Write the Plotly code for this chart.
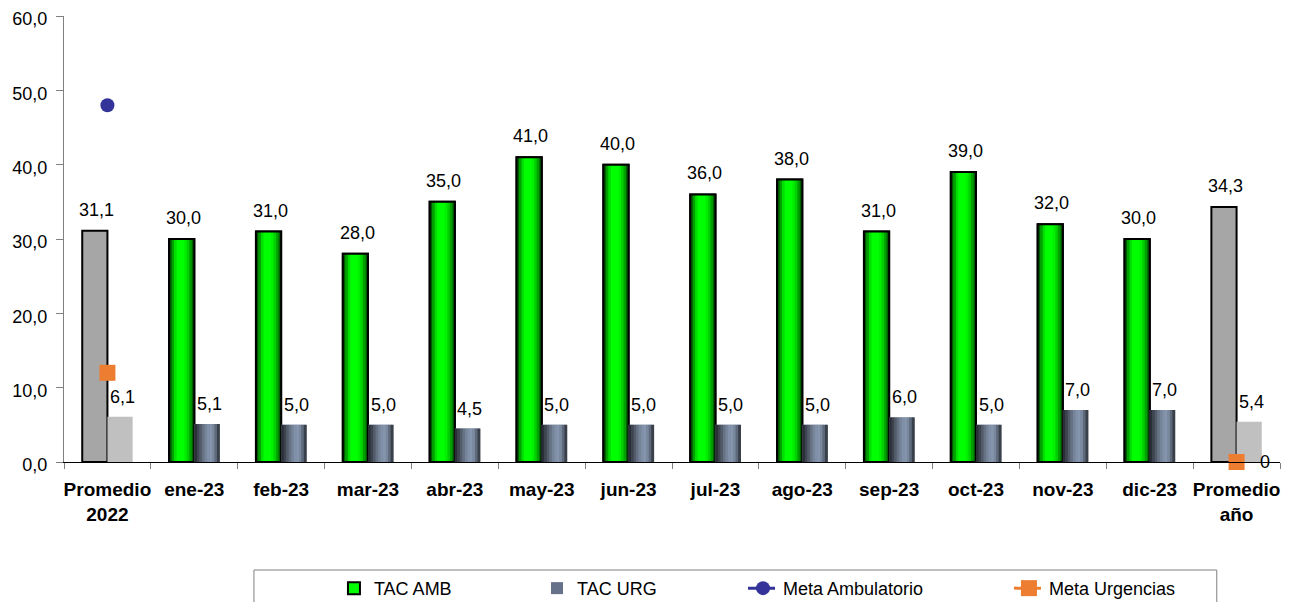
import plotly.graph_objects as go

# ---------------- data ----------------
categories = ["Promedio<br>2022", "ene-23", "feb-23", "mar-23", "abr-23", "may-23", "jun-23",
              "jul-23", "ago-23", "sep-23", "oct-23", "nov-23", "dic-23", "Promedio<br>año"]
tac_amb = [31.1, 30.0, 31.0, 28.0, 35.0, 41.0, 40.0, 36.0, 38.0, 31.0, 39.0, 32.0, 30.0, 34.3]
tac_urg = [6.1, 5.1, 5.0, 5.0, 4.5, 5.0, 5.0, 5.0, 5.0, 6.0, 5.0, 7.0, 7.0, 5.4]
meta_amb = [48.0] + [None] * 13
meta_urg = [12.0] + [None] * 12 + [0.0]
y_ticks = [0, 10, 20, 30, 40, 50, 60]

# ---------------- style ----------------
FONT = "Arial, Liberation Sans, sans-serif"
W = 0.29  # bar width in category units
green_profile = ["#005a00", "#00a000", "#00e000", "#00ff00", "#00ff00", "#00ff00",
                 "#00f000", "#00d000", "#00a000", "#006000"]
urg_profile = ["#2a2e36", "#3e444f", "#525b69", "#667283", "#76849a", "#8090a8",
               "#8595ad", "#7a889e", "#5e6a7c", "#3a404a"]

avg_idx = [0, len(categories) - 1]
mon_idx = list(range(1, len(categories) - 1))
months_x = [categories[i] for i in mon_idx]
amb_m = [tac_amb[i] for i in mon_idx]
urg_m = [tac_urg[i] for i in mon_idx]
avg_x = [categories[i] for i in avg_idx]
amb_a = [tac_amb[i] for i in avg_idx]
urg_a = [tac_urg[i] for i in avg_idx]

fig = go.Figure()

# TAC AMB monthly (legend base)
fig.add_trace(go.Bar(x=months_x, y=amb_m, width=W, offset=-W, name="TAC AMB",
                     marker=dict(color="#00ff00", line=dict(color="black", width=2)),
                     legendgroup="amb", legend="legend"))
n = len(green_profile)
for i, c in enumerate(green_profile):
    fig.add_trace(go.Bar(x=months_x, y=amb_m, width=W / n * 1.15, offset=-W + i * W / n,
                         marker=dict(color=c, line=dict(width=0)), showlegend=False,
                         hoverinfo="skip", legendgroup="amb"))
fig.add_trace(go.Bar(x=months_x, y=amb_m, width=W, offset=-W, showlegend=False,
                     marker=dict(color="rgba(0,0,0,0)", line=dict(color="black", width=2)),
                     hoverinfo="skip", legendgroup="amb"))

# TAC URG monthly
fig.add_trace(go.Bar(x=months_x, y=urg_m, width=W, offset=0, name="TAC URG",
                     marker=dict(color="#65728a", line=dict(width=0)), legendgroup="urg",
                     legend="legend2"))
n = len(urg_profile)
for i, c in enumerate(urg_profile):
    fig.add_trace(go.Bar(x=months_x, y=urg_m, width=W / n * 1.15, offset=i * W / n,
                         marker=dict(color=c, line=dict(width=0)), showlegend=False,
                         hoverinfo="skip", legendgroup="urg"))

# Promedio bars
fig.add_trace(go.Bar(x=avg_x, y=amb_a, width=W, offset=-W, showlegend=False,
                     marker=dict(color="#a6a6a6", line=dict(color="black", width=2))))
fig.add_trace(go.Bar(x=avg_x, y=urg_a, width=W, offset=0, showlegend=False,
                     marker=dict(color="#c0c0c0", line=dict(width=0))))

# Metas
fig.add_trace(go.Scatter(x=categories, y=meta_amb, mode="lines+markers", name="Meta Ambulatorio",
                         line=dict(color="#333399", width=3, dash="dash"),
                         marker=dict(symbol="circle", size=14, color="#333399"),
                         cliponaxis=False, legend="legend3"))
fig.add_trace(go.Scatter(x=categories, y=meta_urg, mode="lines+markers", name="Meta Urgencias",
                         line=dict(color="#ed7d31", width=3, dash="dash"),
                         marker=dict(symbol="square", size=16, color="#ed7d31"),
                         cliponaxis=False, legend="legend4"))


def fmt(v):
    return f"{v:.1f}".replace(".", ",")


LBL = dict(family=FONT, size=18, color="black")
ann = []
for c, v in zip(categories, tac_amb):
    ann.append(dict(x=c, y=v, text=fmt(v), showarrow=False, xshift=-11, yshift=21,
                    yanchor="middle", font=LBL))
for c, v in zip(categories, tac_urg):
    ann.append(dict(x=c, y=v, text=fmt(v), showarrow=False, xshift=15, yshift=20,
                    yanchor="middle", font=LBL))
ann.append(dict(x=categories[-1], y=meta_urg[-1], text=f"{meta_urg[-1]:.0f}", showarrow=False,
                xshift=28, yanchor="middle", font=LBL))

# legend frame (open at the bottom edge of the picture)
shapes = [dict(type="rect", xref="paper", yref="paper", x0=0.1562, x1=0.948,
               y0=-0.2422, y1=-0.40, line=dict(color="#808080", width=1),
               fillcolor="rgba(0,0,0,0)", layer="below")]


def leg(x):
    return dict(orientation="h", x=x, xanchor="left", y=-0.242, yanchor="top",
                borderwidth=0, bgcolor="rgba(0,0,0,0)", font=dict(family=FONT, size=18))


fig.update_layout(
    width=1283, height=594,
    margin=dict(l=56, r=11, t=8, b=140, autoexpand=False),
    plot_bgcolor="white", paper_bgcolor="white",
    barmode="overlay",
    separators=",.",
    font=dict(family=FONT, size=18, color="black"),
    annotations=ann,
    shapes=shapes,
    showlegend=True,
    legend=leg(0.222),
    legend2=leg(0.389),
    legend3=leg(0.5584),
    legend4=leg(0.7771),
    xaxis=dict(type="category", categoryorder="array", categoryarray=categories,
               range=[-0.5, len(categories) - 0.5], tickson="boundaries", tickangle=0,
               ticks="outside", ticklen=6, tickcolor="#808080", ticklabelstandoff=10,
               showline=True, linecolor="black", linewidth=1, showgrid=False,
               tickfont=dict(family=FONT, size=19, weight="bold")),
    yaxis=dict(range=[0, 60], tickvals=y_ticks, tickformat=".1f", ticks="outside",
               ticklen=7, tickcolor="#808080", showline=True, linecolor="#808080",
               linewidth=1, showgrid=False, zeroline=False, ticklabelstandoff=5,
               ticklabelshift=3, ticklabeloverflow="allow",
               tickfont=dict(family=FONT, size=18)),
)

fig.write_html("out.html")
